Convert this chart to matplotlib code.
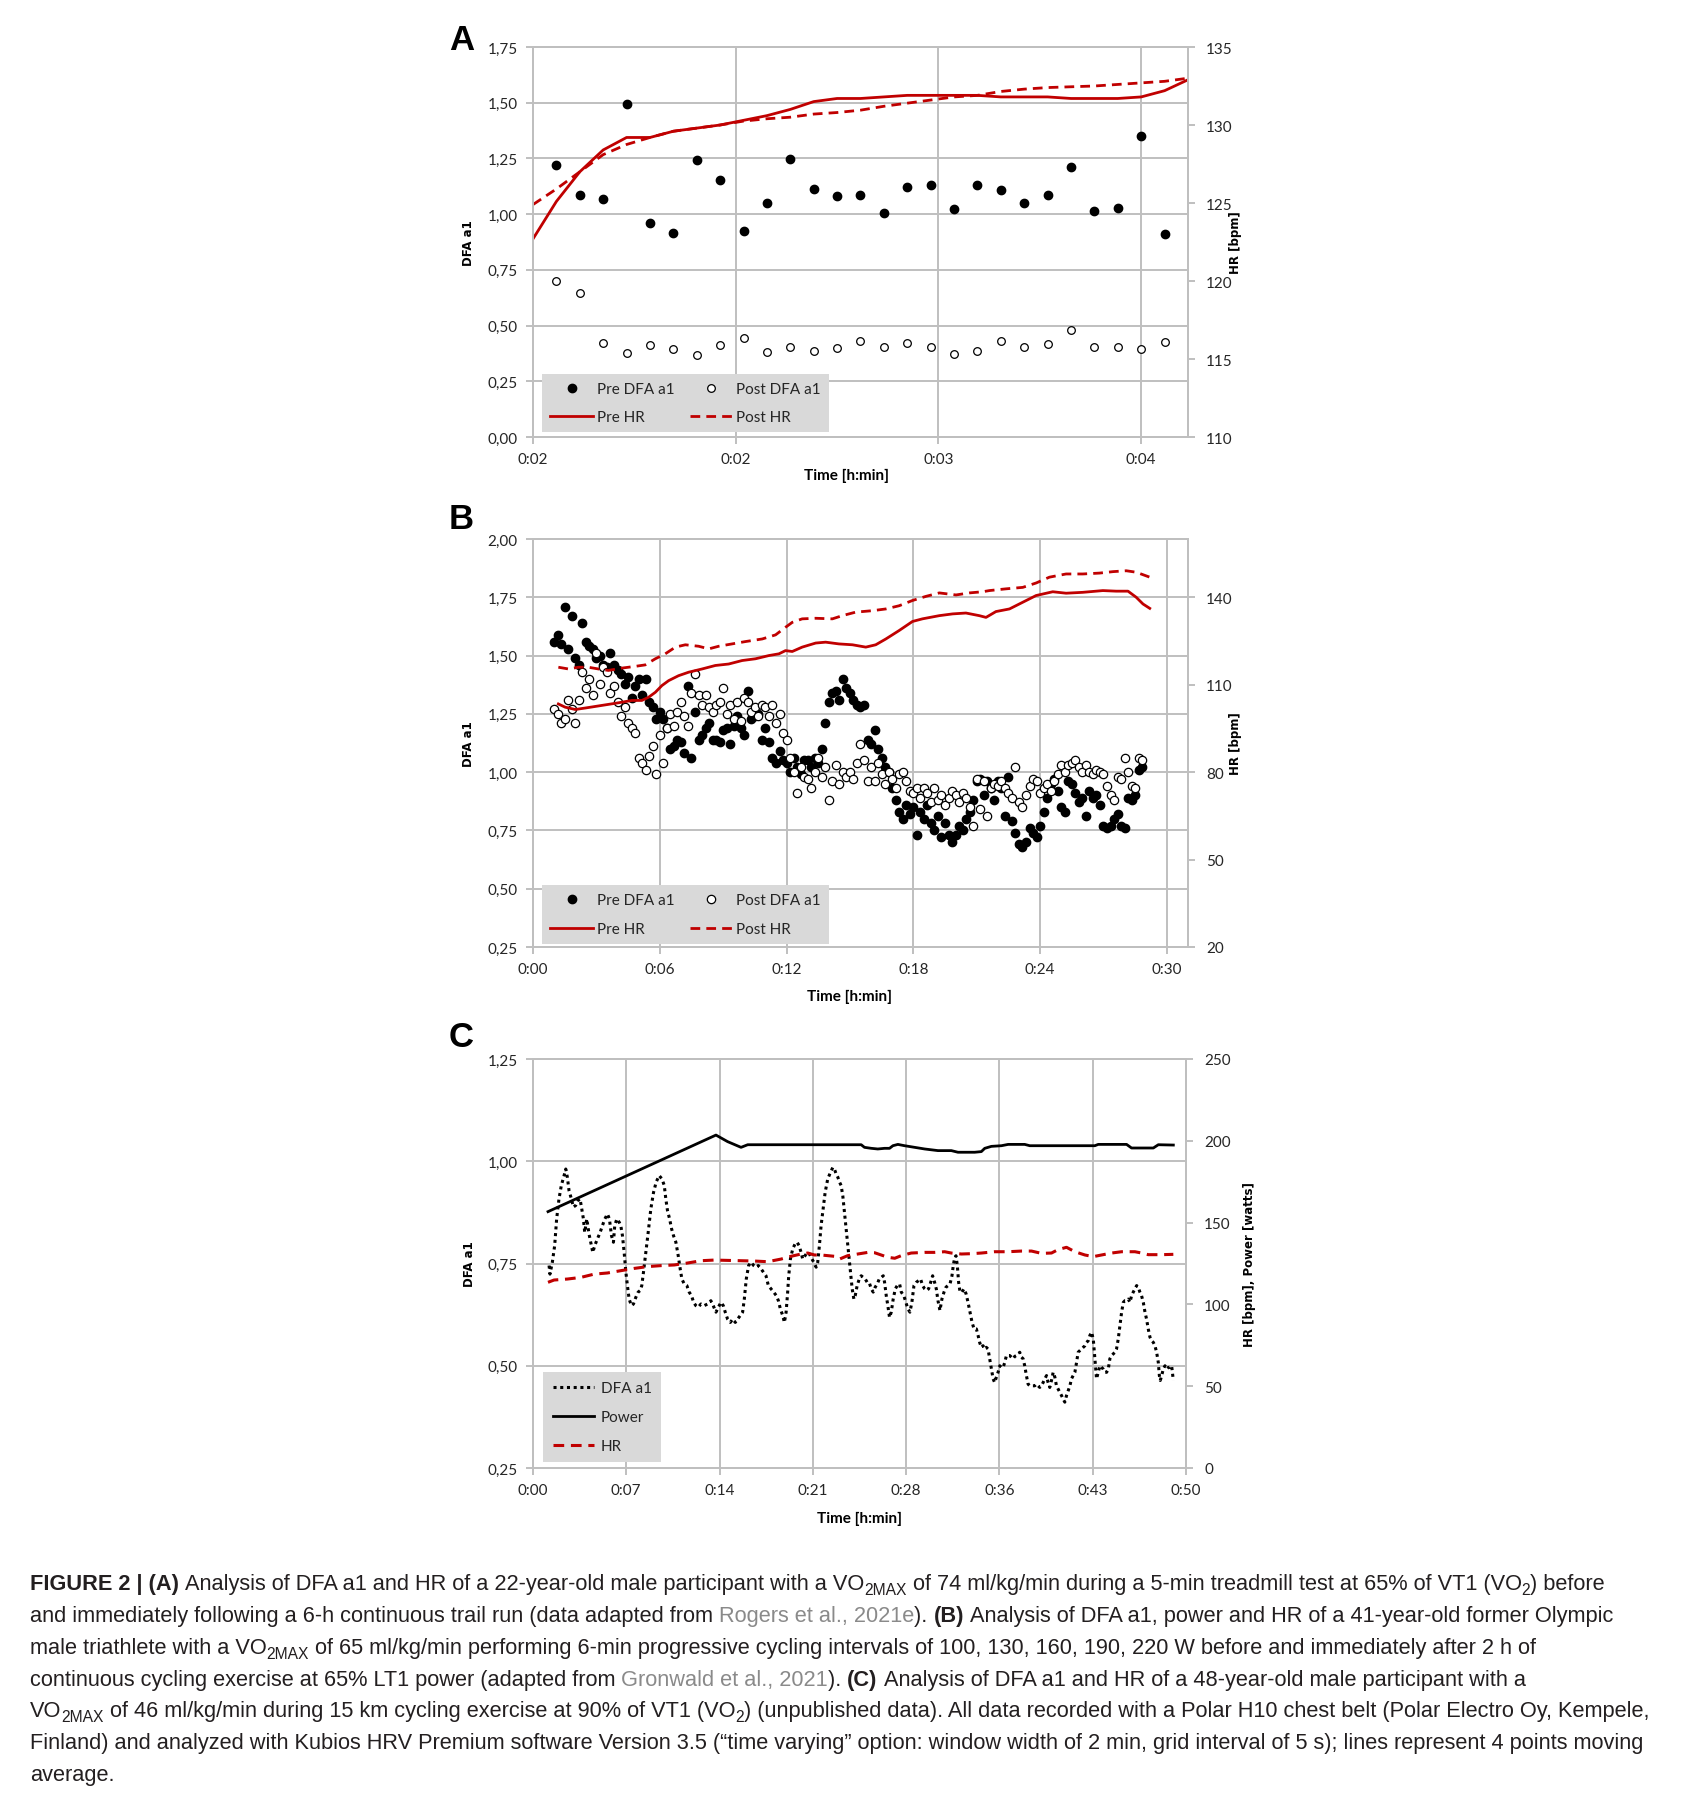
import numpy as np
import matplotlib

matplotlib.use("Agg")
import matplotlib.pyplot as plt
from matplotlib.font_manager import FontProperties

plt.rcParams["font.family"] = ["Lato", "DejaVu Sans"]

W, H = 1690, 1808
RED = "#c00000"
GRID = "#bfbfbf"
LEG_BG = "#d9d9d9"
TXT = "#262626"

############### PANEL A DATA ###############
# x in 5-s samples, tick labels as printed by Excel
a_xticks = [0, 8.67, 17.33, 26]
a_xticklabels = ["0:02", "0:02", "0:03", "0:04"]

a_pre_dfa = [1.22, 1.085, 1.066, 1.495, 0.96, 0.916, 1.241, 1.154, 0.924, 1.052,
             1.248, 1.112, 1.081, 1.084, 1.006, 1.123, 1.130, 1.021, 1.130, 1.109,
             1.052, 1.084, 1.213, 1.012, 1.027, 1.352, 0.909]
a_post_dfa = [0.698, 0.645, 0.424, 0.377, 0.413, 0.395, 0.367, 0.415, 0.445, 0.382,
              0.403, 0.388, 0.398, 0.431, 0.403, 0.422, 0.403, 0.374, 0.385, 0.431,
              0.403, 0.418, 0.478, 0.403, 0.406, 0.395, 0.425]
a_pre_hr = [122.7, 125.1, 127.0, 128.4, 129.2, 129.2, 129.6, 129.8, 130.0, 130.3,
            130.6, 131.0, 131.5, 131.7, 131.7, 131.8, 131.9, 131.9, 131.9, 131.9,
            131.8, 131.8, 131.8, 131.7, 131.7, 131.7, 131.8, 132.2, 132.9]
a_post_hr = [124.9, 125.9, 127.0, 128.1, 128.75, 129.2, 129.6, 129.8, 130.0, 130.25,
             130.4, 130.5, 130.7, 130.8, 130.95, 131.2, 131.4, 131.6, 131.8, 131.9,
             132.15, 132.3, 132.4, 132.45, 132.5, 132.6, 132.7, 132.8, 133.0]

############### PANEL B DATA ###############
b_xticks = [0, 6, 12, 18, 24, 30]
b_xticklabels = ["0:00", "0:06", "0:12", "0:18", "0:24", "0:30"]

# DFA a1 every 10 s starting at 1:00 (6 values per minute)
b_pre_dfa = [
    1.56, 1.59, 1.55, 1.71, 1.53, 1.67,
    1.49, 1.46, 1.64, 1.56, 1.54, 1.53,
    1.49, 1.50, 1.46, 1.45, 1.51, 1.46,
    1.44, 1.42, 1.38, 1.41, 1.32, 1.37,
    1.40, 1.33, 1.40, 1.30, 1.28, 1.23,
    1.26, 1.23, 1.19, 1.10, 1.11, 1.14,
    1.13, 1.08, 1.37, 1.06, 1.26, 1.14,
    1.16, 1.19, 1.21, 1.14, 1.14, 1.13,
    1.18, 1.19, 1.12, 1.20, 1.24, 1.19,
    1.16, 1.35, 1.23, 1.24, 1.25, 1.14,
    1.19, 1.13, 1.06, 1.04, 1.09, 1.05,
    1.04, 1.00, 1.06, 1.02, 0.99, 1.05,
    1.05, 1.02, 1.06, 1.04, 1.10, 1.21,
    1.30, 1.34, 1.35, 1.31, 1.40, 1.36,
    1.34, 1.31, 1.29, 1.28, 1.29, 1.14,
    1.12, 1.18, 1.10, 1.06, 1.02, 1.00,
    0.93, 0.88, 0.83, 0.80, 0.86, 0.82,
    0.85, 0.73, 0.83, 0.80, 0.86, 0.78,
    0.75, 0.81, 0.72, 0.78, 0.73, 0.70,
    0.73, 0.77, 0.75, 0.80, 0.83, 0.88,
    0.96, 0.97, 0.90, 0.96, 0.93, 0.88,
    0.96, 0.93, 0.81, 0.98, 0.79, 0.74,
    0.69, 0.68, 0.70, 0.76, 0.74, 0.72,
    0.77, 0.83, 0.89, 0.95, 0.97, 0.92,
    0.85, 0.83, 0.96, 0.95, 0.91, 0.87,
    0.89, 0.81, 0.92, 0.89, 0.90, 0.86,
    0.77, 0.76, 0.77, 0.80, 0.82, 0.77,
    0.76, 0.89, 0.88, 0.90, 1.01, 1.02,
]
b_post_dfa = [
    1.27, 1.25, 1.21, 1.23, 1.31, 1.27,
    1.21, 1.31, 1.43, 1.36, 1.40, 1.33,
    1.51, 1.38, 1.45, 1.43, 1.34, 1.37,
    1.30, 1.24, 1.28, 1.21, 1.19, 1.17,
    1.06, 1.04, 1.01, 1.07, 1.11, 0.99,
    1.16, 1.04, 1.19, 1.25, 1.20, 1.26,
    1.30, 1.24, 1.20, 1.34, 1.42, 1.33,
    1.29, 1.33, 1.28, 1.26, 1.29, 1.30,
    1.36, 1.25, 1.29, 1.23, 1.30, 1.22,
    1.32, 1.30, 1.26, 1.28, 1.24, 1.29,
    1.28, 1.24, 1.29, 1.21, 1.25, 1.17,
    1.14, 1.06, 1.00, 0.91, 1.02, 0.98,
    0.97, 0.93, 1.00, 1.06, 0.98, 1.02,
    0.88, 0.96, 1.03, 0.95, 1.00, 0.98,
    1.00, 0.97, 1.04, 1.12, 1.05, 0.96,
    1.02, 0.96, 1.04, 0.99, 0.95, 1.00,
    0.97, 0.93, 0.99, 1.00, 0.96, 0.92,
    0.91, 0.93, 0.89, 0.93, 0.91, 0.87,
    0.93, 0.88, 0.90, 0.86, 0.89, 0.92,
    0.90, 0.87, 0.91, 0.89, 0.85, 0.77,
    0.97, 0.84, 0.96, 0.81, 0.93, 0.95,
    0.94, 0.96, 0.93, 0.91, 0.89, 1.02,
    0.87, 0.85, 0.90, 0.94, 0.97, 0.96,
    0.91, 0.93, 0.95, 0.92, 0.96, 0.99,
    1.03, 1.00, 1.03, 1.04, 1.05, 1.02,
    1.00, 1.03, 1.00, 0.99, 1.01, 1.00,
    0.99, 0.94, 0.90, 0.88, 0.98, 0.97,
    1.06, 1.00, 0.94, 0.93, 1.06, 1.05,
]

b_pre_hr_t = [1.2, 1.52, 2.0, 2.47, 3.26, 4.05, 4.68, 5.15, 5.47, 5.79, 6.1, 6.42,
              6.89, 7.37, 8.0, 8.63, 9.26, 9.9, 10.53, 11.16, 11.64, 11.95, 12.27,
              12.74, 13.38, 13.85, 14.48, 15.12, 15.75, 16.22, 16.7, 17.33, 17.96,
              18.43, 19.23, 19.86, 20.49, 21.12, 21.44, 21.91, 22.55, 23.18, 23.81,
              24.6, 25.23, 26.02, 26.97, 27.6, 28.16, 28.55, 28.87, 29.19]
b_pre_hr = [103.4, 102.3, 101.5, 102.0, 102.9, 103.8, 104.6, 104.6, 105.7, 107.4,
            109.7, 111.4, 113.1, 114.3, 115.4, 116.6, 117.1, 118.3, 118.9, 120.0,
            120.6, 121.7, 121.4, 122.9, 124.3, 124.6, 124.0, 123.7, 122.9, 123.7,
            125.7, 128.6, 131.7, 132.6, 133.7, 134.3, 134.6, 133.7, 133.1, 135.1,
            136.0, 138.3, 140.6, 141.9, 141.4, 141.7, 142.3, 142.1, 142.1, 140.0,
            137.7, 136.2]
b_post_hr_t = [1.2, 1.68, 2.15, 2.62, 3.1, 3.57, 4.2, 4.84, 5.31, 5.79, 6.26, 6.74,
               7.21, 7.84, 8.32, 8.79, 9.42, 10.05, 10.85, 11.48, 11.95, 12.27,
               12.74, 13.38, 14.17, 14.64, 15.27, 16.06, 16.7, 17.33, 17.96, 18.59,
               19.23, 20.02, 20.65, 21.28, 21.6, 22.39, 23.18, 23.81, 24.44, 25.23,
               26.02, 26.81, 27.45, 28.08, 28.55, 29.19]
b_post_hr = [116.0, 115.4, 116.0, 116.0, 115.4, 114.9, 115.7, 116.3, 116.8, 118.9,
             120.6, 122.9, 123.7, 123.2, 122.3, 123.2, 124.0, 124.8, 125.7, 127.1,
             129.7, 131.4, 132.6, 132.8, 132.6, 133.7, 134.9, 135.4, 136.0, 137.1,
             138.9, 140.3, 141.5, 140.8, 141.5, 141.9, 142.3, 142.9, 143.4, 144.9,
             146.9, 148.0, 148.0, 148.3, 148.8, 149.1, 148.6, 146.9]

############### PANEL C DATA ###############
c_xticks = [0, 7.14, 14.29, 21.43, 28.57, 35.71, 42.86, 50]
c_xticklabels = ["0:00", "0:07", "0:14", "0:21", "0:28", "0:36", "0:43", "0:50"]

# (minute, DFA a1)
c_dfa = [
    (1.23, 0.745), (1.30, 0.724), (1.48, 0.753), (1.66, 0.794), (1.81, 0.859), (1.99, 0.908),
    (2.17, 0.941), (2.38, 0.965), (2.51, 0.981), (2.63, 0.961), (2.76, 0.928), (2.94, 0.908),
    (3.09, 0.888), (3.27, 0.892), (3.45, 0.904), (3.60, 0.908), (3.71, 0.888), (3.86, 0.859),
    (3.96, 0.826), (4.12, 0.859), (4.29, 0.822), (4.42, 0.802), (4.58, 0.777), (4.73, 0.794),
    (4.93, 0.810), (5.14, 0.826), (5.32, 0.843), (5.50, 0.859), (5.70, 0.871), (5.85, 0.859),
    (6.01, 0.818), (6.16, 0.802), (6.26, 0.843), (6.42, 0.859), (6.60, 0.851), (6.72, 0.843),
    (6.85, 0.818), (6.98, 0.777), (7.11, 0.729), (7.23, 0.696), (7.36, 0.663), (7.54, 0.647),
    (7.69, 0.651), (7.87, 0.667), (8.05, 0.680), (8.21, 0.684), (8.33, 0.696), (8.46, 0.729),
    (8.64, 0.777), (8.82, 0.826), (9.02, 0.883), (9.23, 0.924), (9.43, 0.949), (9.66, 0.965),
    (9.87, 0.957), (10.05, 0.941), (10.17, 0.908), (10.30, 0.879), (10.46, 0.859), (10.61, 0.835),
    (10.76, 0.818), (10.94, 0.802), (11.12, 0.769), (11.27, 0.737), (11.40, 0.712), (11.58, 0.700),
    (11.78, 0.696), (11.96, 0.680), (12.14, 0.671), (12.30, 0.655), (12.47, 0.647), (12.65, 0.643),
    (12.86, 0.651), (13.11, 0.647), (13.37, 0.651), (13.62, 0.659), (13.80, 0.647), (14.01, 0.631),
    (14.19, 0.643), (14.39, 0.655), (14.57, 0.647), (14.72, 0.631), (14.90, 0.614), (15.11, 0.606),
    (15.29, 0.614), (15.49, 0.606), (15.67, 0.614), (15.87, 0.623), (16.05, 0.631), (16.18, 0.663),
    (16.33, 0.712), (16.51, 0.745), (16.69, 0.753), (16.90, 0.745), (17.08, 0.741), (17.25, 0.745),
    (17.46, 0.737), (17.84, 0.720), (18.02, 0.696), (18.23, 0.688), (18.43, 0.680), (18.64, 0.671),
    (18.79, 0.659), (18.94, 0.639), (19.12, 0.623), (19.25, 0.606), (19.38, 0.631), (19.50, 0.680),
    (19.58, 0.720), (19.71, 0.761), (19.89, 0.786), (20.07, 0.798), (20.22, 0.802), (20.37, 0.794),
    (20.53, 0.777), (20.65, 0.761), (20.83, 0.769), (20.99, 0.777), (21.17, 0.773), (21.29, 0.765),
    (21.50, 0.753), (21.68, 0.741), (21.80, 0.753), (21.93, 0.794), (22.06, 0.843), (22.21, 0.883),
    (22.37, 0.924), (22.57, 0.957), (22.78, 0.973), (22.96, 0.985), (23.08, 0.981), (23.21, 0.969),
    (23.34, 0.961), (23.47, 0.949), (23.59, 0.941), (23.72, 0.916), (23.85, 0.875), (24.00, 0.826),
    (24.16, 0.777), (24.31, 0.729), (24.44, 0.688), (24.57, 0.663), (24.67, 0.671), (24.82, 0.696),
    (24.98, 0.712), (25.13, 0.720), (25.28, 0.716), (25.44, 0.712), (25.59, 0.704), (25.74, 0.704),
    (25.90, 0.688), (26.05, 0.680), (26.20, 0.692), (26.36, 0.700), (26.51, 0.712), (26.66, 0.716),
    (26.82, 0.720), (26.92, 0.704), (27.05, 0.671), (27.17, 0.647), (27.30, 0.618), (27.43, 0.631),
    (27.58, 0.663), (27.74, 0.688), (27.89, 0.696), (28.07, 0.700), (28.20, 0.680), (28.40, 0.671),
    (28.55, 0.655), (28.71, 0.639), (28.86, 0.631), (29.01, 0.655), (29.17, 0.696), (29.35, 0.704),
    (29.52, 0.708), (29.68, 0.712), (29.83, 0.696), (29.99, 0.688), (30.14, 0.684), (30.29, 0.688),
    (30.45, 0.704), (30.60, 0.720), (30.75, 0.704), (30.88, 0.688), (31.01, 0.659), (31.16, 0.635),
    (31.31, 0.663), (31.47, 0.680), (31.62, 0.692), (31.77, 0.696), (31.93, 0.700), (32.08, 0.720),
    (32.18, 0.745), (32.29, 0.765), (32.39, 0.769), (32.49, 0.745), (32.59, 0.704), (32.70, 0.680),
    (32.85, 0.680), (33.00, 0.688), (33.16, 0.676), (33.31, 0.655), (33.46, 0.631), (33.62, 0.606),
    (33.77, 0.590), (33.95, 0.590), (34.08, 0.574), (34.20, 0.557), (34.33, 0.545), (34.46, 0.549),
    (34.59, 0.541), (34.71, 0.545), (34.84, 0.541), (34.97, 0.517), (35.10, 0.492), (35.23, 0.468),
    (35.35, 0.459), (35.48, 0.472), (35.61, 0.484), (35.74, 0.500), (35.87, 0.496), (36.00, 0.496),
    (36.12, 0.508), (36.25, 0.525), (36.38, 0.525), (36.50, 0.525), (36.63, 0.521), (36.76, 0.517),
    (36.89, 0.523), (37.02, 0.525), (37.14, 0.529), (37.27, 0.533), (37.40, 0.521), (37.53, 0.517),
    (37.65, 0.500), (37.78, 0.476), (37.91, 0.455), (38.04, 0.451), (38.17, 0.451), (38.29, 0.451),
    (38.42, 0.451), (38.55, 0.455), (38.68, 0.451), (38.80, 0.447), (38.93, 0.451), (39.06, 0.459),
    (39.19, 0.468), (39.32, 0.476), (39.44, 0.459), (39.57, 0.447), (39.70, 0.464), (39.83, 0.484),
    (39.96, 0.472), (40.08, 0.451), (40.21, 0.443), (40.34, 0.435), (40.47, 0.427), (40.59, 0.419),
    (40.72, 0.411), (40.85, 0.427), (40.98, 0.439), (41.11, 0.451), (41.23, 0.468), (41.36, 0.476),
    (41.49, 0.484), (41.62, 0.508), (41.74, 0.533), (41.87, 0.537), (42.00, 0.541), (42.13, 0.545),
    (42.26, 0.549), (42.38, 0.557), (42.51, 0.561), (42.64, 0.574), (42.77, 0.582), (42.90, 0.565),
    (43.02, 0.517), (43.15, 0.468), (43.28, 0.484), (43.41, 0.500), (43.53, 0.496), (43.66, 0.492),
    (43.79, 0.484), (43.92, 0.484), (44.05, 0.492), (44.17, 0.517), (44.30, 0.525), (44.43, 0.529),
    (44.56, 0.533), (44.68, 0.541), (44.81, 0.565), (44.94, 0.598), (45.07, 0.631), (45.20, 0.655),
    (45.32, 0.659), (45.45, 0.659), (45.58, 0.663), (45.71, 0.655), (45.83, 0.671), (45.96, 0.680),
    (46.09, 0.688), (46.22, 0.696), (46.35, 0.692), (46.47, 0.680), (46.60, 0.671), (46.73, 0.655),
    (46.86, 0.631), (46.98, 0.614), (47.11, 0.590), (47.24, 0.570), (47.37, 0.561), (47.50, 0.557),
    (47.62, 0.549), (47.75, 0.533), (47.88, 0.508), (47.96, 0.476), (48.03, 0.464), (48.14, 0.476),
    (48.26, 0.492), (48.39, 0.500), (48.52, 0.492), (48.65, 0.496), (48.77, 0.496), (48.90, 0.500),
    (49.03, 0.464),
]

c_power_t = [1.15, 14.01, 14.9, 15.93, 16.44, 25.13, 25.38, 25.9, 26.4, 26.92, 27.3,
             27.56, 27.94, 28.45, 29.22, 29.99, 31.01, 32.03, 32.54, 33.82, 34.33,
             34.59, 35.1, 35.87, 36.38, 37.65, 38.04, 43.02, 43.28, 45.45, 45.83,
             47.5, 47.88, 49.03]
c_power = [156.7, 203.5, 199.5, 196.0, 197.6, 197.6, 196.0, 195.4, 195.0, 195.4,
           195.4, 197.0, 197.8, 197.0, 196.0, 195.0, 194.0, 194.0, 193.0, 193.0,
           193.4, 195.4, 196.6, 197.0, 197.8, 197.8, 197.0, 197.0, 197.8, 197.8,
           195.6, 195.6, 197.6, 197.4]

c_hr_t = [1.15, 1.61, 2.63, 3.66, 4.68, 5.70, 6.72, 7.75, 8.77, 9.79, 10.81, 11.84,
          12.86, 13.88, 14.90, 15.93, 16.95, 17.97, 18.99, 19.76, 20.53, 21.04,
          21.55, 22.06, 22.57, 23.08, 23.47, 24.1, 24.87, 25.64, 26.15, 26.66,
          27.17, 27.7, 28.2, 28.96, 29.99, 30.75, 31.52, 32.03, 32.8, 33.56, 34.33,
          35.35, 36.38, 37.4, 38.17, 38.93, 39.7, 40.21, 40.85, 41.49, 42.26, 42.9,
          43.53, 44.3, 45.07, 46.09, 46.6, 47.11, 48.14, 49.03]
c_hr = [113.5, 114.9, 115.5, 116.5, 118.5, 119.2, 120.6, 122.0, 123.1, 123.7, 124.1,
        125.3, 126.7, 127.1, 126.9, 126.7, 126.5, 126.1, 127.7, 129.4, 130.8, 131.4,
        130.2, 130.2, 129.8, 129.4, 127.7, 129.8, 130.8, 131.8, 131.6, 130.2, 128.8,
        128.2, 129.8, 131.4, 131.8, 131.8, 132.2, 131.4, 130.8, 131.0, 131.4, 132.2,
        132.2, 132.6, 132.6, 131.2, 131.4, 133.5, 134.9, 132.2, 130.2, 129.2, 130.2,
        131.4, 132.2, 132.2, 131.4, 130.4, 130.4, 130.6]


def dfa_fmt(vals):
    return [f"{v:.2f}".replace(".", ",") for v in vals]


def style(ax, ax2, xlim, xticks, xlabels, ylim, yticks, y2lim, y2ticks, y2label,
          xlab_pos, y2lab_x):
    ax.set_xlim(*xlim)
    ax.set_ylim(*ylim)
    ax.set_xticks(xticks, xlabels)
    ax.set_yticks(yticks, dfa_fmt(yticks))
    ax.grid(True, color=GRID, lw=1.4)
    ax.set_axisbelow(True)
    ax2.set_ylim(*y2lim)
    ax2.set_yticks(y2ticks, [str(v) for v in y2ticks])
    for a in (ax, ax2):
        for s in a.spines.values():
            s.set_color(GRID)
            s.set_linewidth(1.4)
    ax.tick_params(axis="both", direction="out", length=5, width=1.4, color=GRID,
                   labelsize=11, labelcolor=TXT, pad=6)
    ax2.tick_params(axis="y", direction="out", length=5, width=1.4, color=GRID,
                    labelsize=11, labelcolor=TXT, pad=8)
    ax.set_ylabel("DFA a1", fontfamily="DejaVu Sans", fontweight="bold", fontsize=8.5)
    ax.yaxis.set_label_coords(-0.088, 0.5)
    ax2.set_ylabel(y2label, fontfamily="DejaVu Sans", fontweight="bold", fontsize=8.5)
    ax2.yaxis.set_label_coords(y2lab_x, 0.5)
    ax.set_xlabel("Time [h:min]", fontweight="bold", fontsize=11)
    ax.xaxis.set_label_coords(*xlab_pos)


def legend(ax2, handles, labels, ncol, anchor, **kw):
    leg = ax2.legend(handles, labels, ncol=ncol, loc="lower left", bbox_to_anchor=anchor,
                     frameon=True, fancybox=False, facecolor=LEG_BG, edgecolor=LEG_BG,
                     framealpha=1, fontsize=11, numpoints=1, borderaxespad=0, **kw)
    leg.get_frame().set_linewidth(0)
    for t in leg.get_texts():
        t.set_color(TXT)
    return leg


fig = plt.figure(figsize=(W / 100, H / 100), dpi=100)

#################### A ####################
axA = fig.add_axes([533 / W, 1 - 438 / H, 655 / W, 390 / H])
axA2 = axA.twinx()
xA = np.arange(1, len(a_pre_dfa) + 1)
xA_hr = np.arange(0, len(a_pre_hr))
hA1, = axA.plot(xA, a_pre_dfa, "o", ls="none", color="black", ms=6)
hA2, = axA.plot(xA, a_post_dfa, "o", ls="none", mfc="white", mec="black", mew=0.9, ms=5.5)
hA3, = axA2.plot(xA_hr, a_pre_hr, color=RED, lw=2)
hA4, = axA2.plot(xA_hr, a_post_hr, color=RED, lw=2, dashes=(3.5, 2.2))
style(axA, axA2, (0, 28), a_xticks, a_xticklabels, (0, 1.75),
      [0, 0.25, 0.5, 0.75, 1.0, 1.25, 1.5, 1.75], (110, 135), [110, 115, 120, 125, 130, 135],
      "HR [bpm]", (0.478, -0.08), 1.062)
legend(axA2, [hA1, hA3, hA2, hA4], ["Pre DFA a1", "Pre HR", "Post DFA a1", "Post HR"], 2,
       (0.014, 0.013), handlelength=2.8, handletextpad=0.25, columnspacing=1.0,
       labelspacing=0.9, borderpad=0.52)

#################### B ####################
axB = fig.add_axes([533 / W, 1 - 948 / H, 655 / W, 408 / H])
axB2 = axB.twinx()
tB = 1 + np.arange(len(b_pre_dfa)) / 6
hB1, = axB.plot(tB, b_pre_dfa, "o", ls="none", color="black", ms=6)
hB2, = axB.plot(tB, b_post_dfa, "o", ls="none", mfc="white", mec="black", mew=0.9, ms=6)
hB3, = axB2.plot(b_pre_hr_t, b_pre_hr, color=RED, lw=2)
hB4, = axB2.plot(b_post_hr_t, b_post_hr, color=RED, lw=2, dashes=(3.5, 2.2))
style(axB, axB2, (0, 31), b_xticks, b_xticklabels, (0.25, 2.0),
      [0.25, 0.5, 0.75, 1.0, 1.25, 1.5, 1.75, 2.0], (20, 160), [20, 50, 80, 110, 140],
      "HR [bpm]", (0.483, -0.102), 1.062)
legend(axB2, [hB1, hB3, hB2, hB4], ["Pre DFA a1", "Pre HR", "Post DFA a1", "Post HR"], 2,
       (0.014, 0.007), handlelength=2.8, handletextpad=0.25, columnspacing=1.0,
       labelspacing=1.0, borderpad=0.52)

#################### C ####################
axC = fig.add_axes([533 / W, 1 - 1469 / H, 653 / W, 409 / H])
axC2 = axC.twinx()
c_t = [p[0] for p in c_dfa]
c_v = [p[1] for p in c_dfa]
hC1, = axC.plot(c_t, c_v, color="black", lw=2.2, ls=(0, (1, 1.2)))
hC2, = axC2.plot(c_power_t, c_power, color="black", lw=2)
hC3, = axC2.plot(c_hr_t, c_hr, color=RED, lw=2.2, dashes=(3.5, 2.2))
style(axC, axC2, (0, 50), c_xticks, c_xticklabels, (0.25, 1.25),
      [0.25, 0.5, 0.75, 1.0, 1.25], (0, 250), [0, 50, 100, 150, 200, 250],
      "HR [bpm], Power [watts]", (0.5, -0.104), 1.088)
legend(axC2, [hC1, hC2, hC3], ["DFA a1", "Power", "HR"], 1, (0.016, 0.014),
       handlelength=2.7, handletextpad=0.45, labelspacing=0.98, borderpad=0.6)

# panel letters
for letter, yb in (("A", 50), ("B", 529), ("C", 1047)):
    fig.text(449 / W, 1 - yb / H, letter, fontsize=25, fontweight="bold",
             fontfamily="Liberation Sans", va="baseline", ha="left")

#################### CAPTION ####################
cap_lines = [
    [("FIGURE 2 | (A)", "b"), (" Analysis of DFA a1 and HR of a 22-year-old male participant with a VO", "n"),
     ("2MAX", "s"), (" of 74 ml/kg/min during a 5-min treadmill test at 65% of VT1 (VO", "n"), ("2", "s"),
     (") before", "n")],
    [("and immediately following a 6-h continuous trail run (data adapted from ", "n"),
     ("Rogers et al., 2021e", "g"), ("). ", "n"), ("(B)", "b"),
     (" Analysis of DFA a1, power and HR of a 41-year-old former Olympic", "n")],
    [("male triathlete with a VO", "n"), ("2MAX", "s"),
     (" of 65 ml/kg/min performing 6-min progressive cycling intervals of 100, 130, 160, 190, 220 W before and immediately after 2 h of", "n")],
    [("continuous cycling exercise at 65% LT1 power (adapted from ", "n"), ("Gronwald et al., 2021", "g"),
     ("). ", "n"), ("(C)", "b"), (" Analysis of DFA a1 and HR of a 48-year-old male participant with a", "n")],
    [("VO", "n"), ("2MAX", "s"),
     (" of 46 ml/kg/min during 15 km cycling exercise at 90% of VT1 (VO", "n"), ("2", "s"),
     (") (unpublished data). All data recorded with a Polar H10 chest belt (Polar Electro Oy, Kempele,", "n")],
    [("Finland) and analyzed with Kubios HRV Premium software Version 3.5 (\u201ctime varying\u201d option: window width of 2 min, grid interval of 5 s); lines represent 4 points moving", "n")],
    [("average.", "n")],
]
cap_base = [1590, 1622, 1654, 1686, 1717, 1749, 1781]

renderer = fig.canvas.get_renderer()


def props(kind, fs):
    size = fs * 0.72 if kind == "s" else fs
    weight = "bold" if kind == "b" else "normal"
    return FontProperties(family="Liberation Sans", weight=weight, size=size)


def width(s, fp):
    # advance width, measured between two sentinel glyphs
    w1 = renderer.get_text_width_height_descent("H" + s + "H", fp, ismath=False)[0]
    w0 = renderer.get_text_width_height_descent("HH", fp, ismath=False)[0]
    return w1 - w0


def line_width(pieces, fs):
    return sum(width(s, props(k, fs)) for s, k in pieces)


fs0 = 14.0
widest = max(line_width(p, fs0) for p in cap_lines)
cap_fs = fs0 * 1632 / widest

for pieces, yb in zip(cap_lines, cap_base):
    x = 30.0
    for s, kind in pieces:
        fp = props(kind, cap_fs)
        lead = len(s) - len(s.lstrip(" "))
        if lead:
            x += width(" " * lead, fp)
            s = s.lstrip(" ")
        dy = cap_fs * 0.22 * 100 / 72 if kind == "s" else 0
        color = "#8a8a8a" if kind == "g" else "#231f20"
        fig.text(x / W, 1 - (yb + dy) / H, s, fontproperties=fp, color=color,
                 va="baseline", ha="left")
        x += width(s, fp)

fig.savefig("out.png", dpi=100)
